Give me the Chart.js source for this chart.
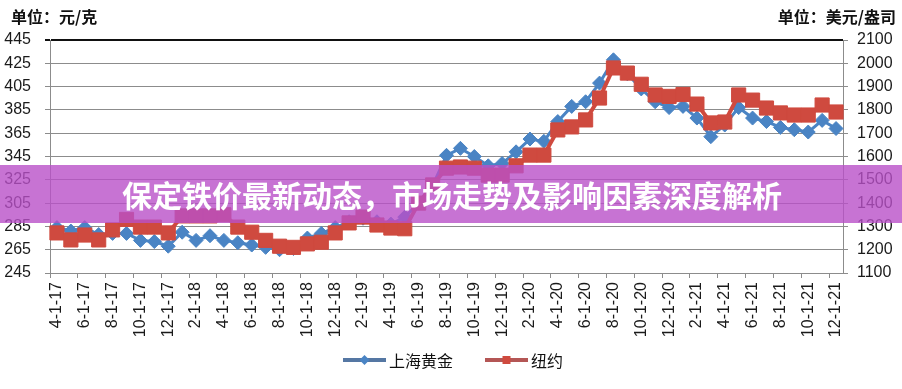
<!DOCTYPE html>
<html>
<head>
<meta charset="utf-8">
<script src="https://cdn.jsdelivr.net/npm/chart.js@4.4.1/dist/chart.umd.min.js"></script>
<style>
  body { margin: 0; background: #fff; }
  #wrap { position: relative; width: 902px; height: 389px; }
  #banner {
    position: absolute; left: 0; top: 165px; width: 902px; height: 58px;
    background: rgba(185, 80, 200, 0.8);
    color: #fff; font: bold 30px "Noto Sans CJK SC", sans-serif;
    line-height: 58px; text-align: center; padding-left: 2px; box-sizing: border-box;
  }
</style>
</head>
<body>
<div id="wrap">
  <canvas id="lineChart" width="902" height="389"></canvas>
  <div id="banner">保定铁价最新动态，市场走势及影响因素深度解析</div>
</div>
<script>
// month labels (every other one shown on the axis)
const months = [
  '4-1-17', '5-1-17', '6-1-17', '7-1-17', '8-1-17', '9-1-17', '10-1-17', '11-1-17', '12-1-17',
  '1-1-18', '2-1-18', '3-1-18', '4-1-18', '5-1-18', '6-1-18', '7-1-18', '8-1-18', '9-1-18', '10-1-18', '11-1-18', '12-1-18',
  '1-1-19', '2-1-19', '3-1-19', '4-1-19', '5-1-19', '6-1-19', '7-1-19', '8-1-19', '9-1-19', '10-1-19', '11-1-19', '12-1-19',
  '1-1-20', '2-1-20', '3-1-20', '4-1-20', '5-1-20', '6-1-20', '7-1-20', '8-1-20', '9-1-20', '10-1-20', '11-1-20', '12-1-20',
  '1-1-21', '2-1-21', '3-1-21', '4-1-21', '5-1-21', '6-1-21', '7-1-21', '8-1-21', '9-1-21', '10-1-21', '11-1-21', '12-1-21'
];

// 上海黄金, 元/克 (left axis)
const shanghaiGold = [
  284, 281, 284, 278, 279, 279, 273, 272, 268,
  280, 273, 277, 273, 271, 269, 267, 265, 266, 275, 279, 284,
  289, 292, 289, 287, 293, 305, 320, 346, 352, 345, 337, 339,
  349, 360, 358, 375, 388, 392, 408, 428, 416, 403, 392, 387,
  388, 378, 362, 372, 387, 378, 375, 370, 368, 366, 376, 369
];

// 纽约, 美元/盎司 (right axis)
const newYork = [
  1272, 1242, 1263, 1242, 1285, 1330, 1297, 1297, 1272,
  1345, 1345, 1345, 1350, 1297, 1275, 1240, 1215, 1210, 1225, 1232, 1272,
  1315, 1340, 1306, 1293, 1290, 1400, 1478, 1550, 1555, 1550, 1520, 1520,
  1560, 1606, 1606, 1714, 1727, 1757, 1851, 1980, 1958, 1910, 1864, 1858,
  1866, 1825, 1744, 1748, 1864, 1842, 1808, 1787, 1778, 1778, 1821, 1791
];

const leftTicks = { min: 245, max: 445, step: 20 };
const rightTicks = { min: 1100, max: 2100, step: 100 };

const blueColor = '#4a84c4';
const redColor = '#cf4a3f';
const gridColor = '#8c8c8c';
const tickFont = { family: '"Liberation Sans", Arial, sans-serif', size: 16 };

// unit titles at the top and the line+marker legend at the bottom
const extrasPlugin = {
  id: 'extras',
  afterDraw(chart) {
    const ctx = chart.ctx;
    ctx.save();
    ctx.fillStyle = '#111';
    ctx.font = 'bold 16px "Noto Sans CJK SC", sans-serif';
    ctx.textBaseline = 'middle';
    ctx.textAlign = 'left';
    ctx.fillText('单位：元/克', 11, 17);
    ctx.textAlign = 'right';
    ctx.fillText('单位：美元/盎司', 896, 17);

    // legend
    ctx.font = '16px "Noto Sans CJK SC", sans-serif';
    ctx.textAlign = 'left';
    const y = 360;
    const items = [
      { text: '上海黄金', line: '#5577a3', fill: blueColor, shape: 'diamond' },
      { text: '纽约', line: '#b45655', fill: redColor, shape: 'square' }
    ];
    const lineLen = 43, gap = 32;
    let total = 0;
    items.forEach((it, i) => {
      it.w = lineLen + 3 + ctx.measureText(it.text).width;
      total += it.w + (i ? gap : 0);
    });
    let x = 453 - total / 2;
    items.forEach(it => {
      ctx.strokeStyle = it.line;
      ctx.lineWidth = 4;
      ctx.beginPath();
      ctx.moveTo(x, y);
      ctx.lineTo(x + lineLen, y);
      ctx.stroke();
      const cx = x + lineLen / 2;
      ctx.fillStyle = it.fill;
      ctx.beginPath();
      if (it.shape === 'diamond') {
        ctx.moveTo(cx, y - 5); ctx.lineTo(cx + 5, y); ctx.lineTo(cx, y + 5); ctx.lineTo(cx - 5, y);
      } else {
        ctx.rect(cx - 4, y - 4, 8, 8);
      }
      ctx.fill();
      ctx.fillStyle = '#111';
      ctx.fillText(it.text, x + lineLen + 3, y + 1);
      x += it.w + gap;
    });
    ctx.restore();
  }
};

const config = {
  type: 'line',
  data: {
    labels: months,
    datasets: [
      {
        label: '上海黄金',
        data: shanghaiGold,
        yAxisID: 'y',
        order: 1,
        borderColor: blueColor,
        backgroundColor: blueColor,
        borderWidth: 3,
        pointStyle: 'rectRot',
        pointRadius: 7,
        pointBorderWidth: 1,
        tension: 0
      },
      {
        label: '纽约',
        data: newYork,
        yAxisID: 'y1',
        order: 0,
        borderColor: redColor,
        backgroundColor: redColor,
        borderWidth: 4,
        pointStyle: 'rect',
        pointRadius: 10,
        pointBorderWidth: 1,
        tension: 0
      }
    ]
  },
  options: {
    responsive: false,
    animation: false,
    layout: { padding: { top: 40, bottom: 46, left: 0, right: 0 } },
    plugins: {
      legend: { display: false },
      tooltip: { enabled: false }
    },
    scales: {
      x: {
        offset: true,
        grid: {
          offset: true,
          drawOnChartArea: false,
          tickLength: 5,
          color: c => (c.index % 2 === 0 ? gridColor : 'rgba(0,0,0,0)')
        },
        border: { color: gridColor },
        ticks: {
          autoSkip: false,
          maxRotation: 90,
          minRotation: 90,
          padding: 4,
          color: '#1a1a1a',
          font: tickFont,
          callback: function (val, i) { return i % 2 === 0 ? this.getLabelForValue(val) : ''; }
        },
        afterFit: s => { s.height = 70; }
      },
      y: {
        position: 'left',
        min: leftTicks.min,
        max: leftTicks.max,
        grid: {
          color: c => (c.tick && c.tick.value === leftTicks.max ? '#111' : gridColor),
          lineWidth: c => (c.tick && c.tick.value === leftTicks.max ? 2 : 1),
          tickLength: 5
        },
        border: { color: gridColor },
        ticks: { stepSize: leftTicks.step, padding: 14, color: '#1a1a1a', font: tickFont, callback: v => String(v) },
        afterFit: s => { s.width = 50; }
      },
      y1: {
        position: 'right',
        min: rightTicks.min,
        max: rightTicks.max,
        grid: { drawOnChartArea: false, tickLength: 5, color: gridColor },
        border: { color: gridColor },
        ticks: { stepSize: rightTicks.step, padding: 9, color: '#1a1a1a', font: tickFont, callback: v => String(v) },
        afterFit: s => { s.width = 59; }
      }
    }
  },
  plugins: [extrasPlugin]
};

const ctx = document.getElementById('lineChart').getContext('2d');
const lineChart = new Chart(ctx, config);
</script>
</body>
</html>
